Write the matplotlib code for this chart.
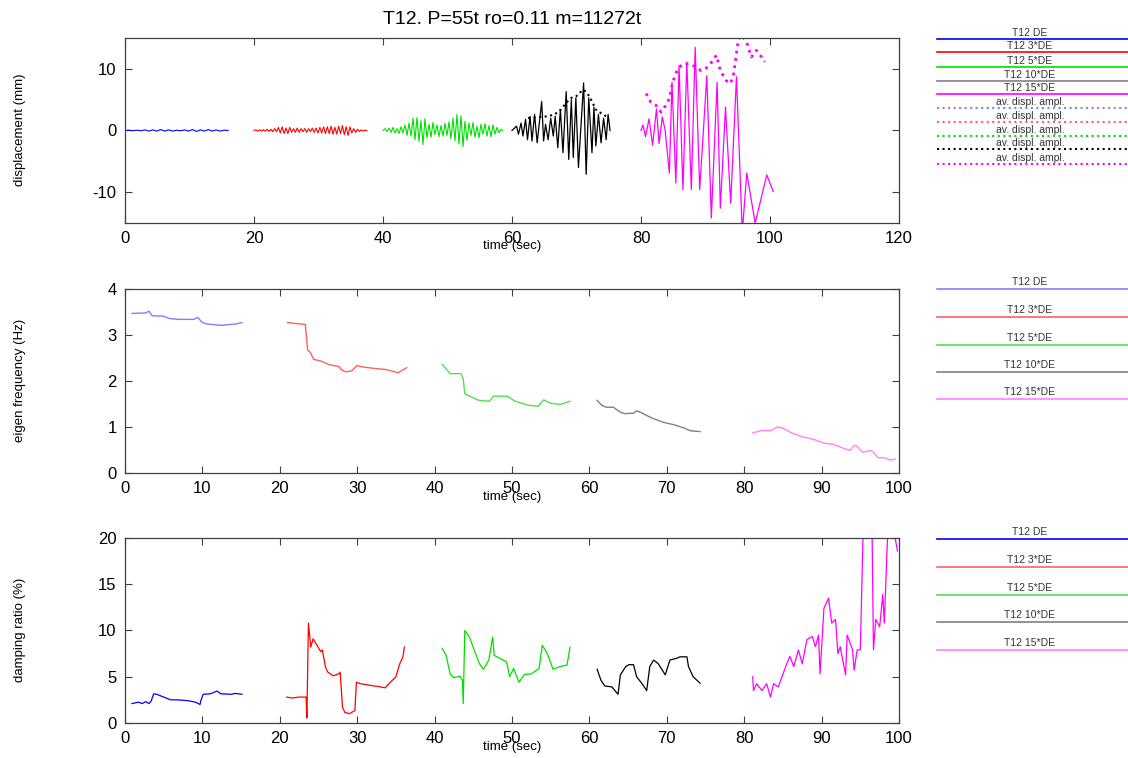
import numpy as np
import matplotlib
matplotlib.use('Agg')
import matplotlib.pyplot as plt

plt.rcParams['font.family'] = ['Liberation Sans', 'DejaVu Sans']
plt.rcParams['axes.unicode_minus'] = False

# Nombres de las series y colores
series = ['T12 DE', 'T12 3*DE', 'T12 5*DE', 'T12 10*DE', 'T12 15*DE']
colores = ['#0000ff', '#ff0000', '#00e000', '#000000', '#ff00ff']
colores_claros = ['#8080ff', '#ff6060', '#50e050', '#808080', '#ff80ff']

# ---- Desplazamiento (mm): extremos ----
d_azul = [0, 0.05, -0.05, 0.05, -0.05, 0.1, -0.1, 0.1, -0.1, 0.15, -0.1, 0.1, -0.1, 0.05,
          -0.05, 0.1, -0.1, 0.15, -0.15, 0.1, -0.1, 0.15, -0.1, 0.1, -0.1, 0.05, 0]
t_azul = (0.0, 16.0)

d_rojo = [0, 0.1, -0.1, 0.1, -0.1, 0.15, -0.1, 0.2, -0.15, 0.2, -0.2, 0.3, -0.2, 0.5, -0.4,
          0.6, -0.5, 0.4, -0.5, 0.5, -0.3, 0.3, -0.3, 0.4, -0.3, 0.3, -0.2, 0.3, -0.3, 0.3,
          -0.2, 0.4, -0.3, 0.4, -0.4, 0.5, -0.4, 0.6, -0.5, 0.6, -0.5, 0.7, -0.6, 0.5, -0.6,
          0.7, -0.5, 0.8, -0.7, 0.6, -0.8, 0.6, -0.4, 0.3, -0.3, 0.2, -0.15, 0.1, -0.1, 0.05, 0]
t_rojo = (20.0, 37.5)

d_verde = [0, 0.3, -0.2, 0.4, -0.3, 0.5, -0.4, 0.3, -0.5, 0.6, -0.4, 0.9, -0.8, 1.2, -0.9,
           2.0, -1.5, 2.1, -1.8, 1.6, -2.3, 1.9, -1.2, 1.0, -1.1, 1.3, -0.7, 0.9, -1.0, 0.8,
           -0.9, 1.2, -0.8, 1.4, -1.3, 2.0, -1.7, 2.6, -2.2, 2.4, -2.6, 1.5, -1.6, 1.2, -0.8,
           1.3, -1.1, 0.7, -1.2, 1.0, -0.6, 1.1, -0.9, 0.8, -1.0, 0.9, -0.6, 0.5, -0.4, 0.2, 0]
t_verde = (40.0, 58.6)

t_negro = [60.0, 60.7, 61.0, 61.4, 61.7, 62.1, 62.4, 62.8, 63.1, 63.5, 63.9, 64.6, 64.9,
           65.2, 65.6, 66.0, 66.4, 66.7, 67.1, 67.5, 67.9, 68.4, 68.8, 69.2, 69.5, 69.9,
           70.3, 71.1, 71.5, 71.9, 72.4, 72.7, 73.0, 73.4, 73.8, 74.2, 74.6, 74.9, 75.2]
d_negro = [0, 0.7, -0.6, 1.2, -0.9, 1.8, -1.5, 2.3, -1.7, 2.6, -2.0, 4.7, -1.7,
           1.0, -1.5, 2.0, -0.9, 2.3, -2.8, 3.4, -3.6, 6.3, -4.7, 5.0, -4.4, 5.3,
           -6.0, 7.7, -7.1, 5.3, -3.6, 3.8, -2.5, 2.6, -2.0, 2.0, -1.5, 2.6, 0]

t_magenta = [80.0, 80.3, 80.7, 81.25, 81.8, 82.4, 82.8, 83.3, 83.75, 84.4, 84.8, 85.4,
             85.9, 86.5, 87.1, 87.8, 88.4, 89.1, 90.2, 90.9, 91.8, 92.3, 93.1, 93.9,
             94.8, 95.7, 96.4, 97.7, 99.5, 100.5]
d_magenta = [0, 0.9, -1.0, 1.9, -2.4, 3.5, -2.1, 2.2, 0, -6.9, 7.8, -8.5,
             10.5, -9.6, 11.1, -9.6, 13.5, -9.6, 8.9, -14.2, 7.8, -12.6, 3.8, -11.8,
             8.7, -16.5, -6.9, -15.0, -7.2, -9.9]

# amplitud media del desplazamiento (punteada)
t_amp_negro = [62.5, 63.5, 64.5, 65.5, 66.6, 67.6, 68.4, 69.2, 69.9, 70.5, 71.0, 71.5,
               72.0, 72.5, 73.0, 73.8, 74.6]
a_amp_negro = [2.0, 2.1, 2.2, 2.3, 2.6, 3.4, 4.5, 5.3, 5.5, 6.1, 6.6, 6.3,
               5.5, 4.5, 3.4, 2.8, 2.3]
t_amp_magenta = [80.8, 81.5, 82.3, 83.1, 83.8, 84.4, 84.9, 85.7, 86.5, 87.5, 88.5, 89.3,
                 90.4, 91.7, 92.3, 93.2, 93.8, 94.3, 95.1, 95.6, 96.4, 97.1, 97.9, 98.7, 99.2]
a_amp_magenta = [6.0, 4.6, 4.1, 3.0, 4.0, 5.2, 7.8, 10.0, 10.8, 10.8, 10.3, 9.7,
                 10.3, 12.2, 9.7, 8.1, 7.6, 8.7, 14.8, 15.5, 14.3, 11.9, 13.0, 11.9, 11.1]

# ---- Frecuencia propia (Hz) ----
f_t = [
    [0.9, 2.7, 3.1, 3.5, 5.0, 5.7, 6.9, 8.9, 9.4, 10.0, 10.6, 12.4, 14.3, 15.1],
    [21.0, 22.1, 23.3, 23.6, 23.9, 24.4, 25.4, 26.3, 27.7, 27.9, 28.5, 29.3, 30.0, 30.5,
     31.9, 33.7, 35.3, 35.8, 36.4],
    [41.0, 42.0, 43.4, 43.7, 43.9, 44.8, 45.7, 47.1, 47.6, 49.4, 50.4, 52.2, 53.4, 54.1,
     54.9, 56.2, 57.5],
    [61.0, 61.6, 62.2, 63.1, 64.0, 64.6, 65.7, 66.1, 66.6, 67.4, 68.3, 69.6, 70.9, 72.2,
     73.0, 74.3],
    [81.1, 82.1, 83.4, 84.3, 84.9, 86.4, 87.7, 89.0, 90.3, 91.6, 93.1, 93.7, 94.2, 94.6,
     95.3, 96.4, 96.7, 97.3, 98.1, 98.9, 99.5],
]
f_val = [
    [3.47, 3.48, 3.52, 3.42, 3.41, 3.36, 3.34, 3.34, 3.38, 3.27, 3.24, 3.21, 3.24, 3.27],
    [3.27, 3.25, 3.23, 2.67, 2.63, 2.47, 2.43, 2.36, 2.31, 2.25, 2.20, 2.22, 2.34, 2.31,
     2.28, 2.25, 2.18, 2.23, 2.29],
    [2.36, 2.16, 2.16, 2.05, 1.72, 1.65, 1.58, 1.56, 1.67, 1.67, 1.56, 1.47, 1.45, 1.59,
     1.52, 1.49, 1.56],
    [1.58, 1.47, 1.43, 1.43, 1.32, 1.29, 1.30, 1.35, 1.32, 1.25, 1.18, 1.10, 1.05, 0.98,
     0.92, 0.90],
    [0.87, 0.92, 0.92, 1.00, 0.98, 0.85, 0.78, 0.73, 0.65, 0.62, 0.52, 0.49, 0.60, 0.58,
     0.45, 0.49, 0.45, 0.33, 0.33, 0.28, 0.30],
]

# ---- Amortiguamiento (%) ----
z_t = [
    [0.9, 1.75, 2.2, 2.7, 3.1, 3.4, 3.7, 4.1, 5.0, 5.9, 6.8, 8.2, 9.1, 9.7, 9.8, 10.1,
     11.0, 11.9, 12.4, 13.8, 14.2, 15.1],
    [20.9, 21.6, 22.5, 23.4, 23.5, 23.7, 24.0, 24.3, 24.8, 25.3, 25.5, 25.9, 26.2, 26.9,
     27.6, 27.8, 28.1, 28.4, 29.0, 29.7, 29.9, 30.4, 31.8, 32.7, 33.6, 34.1, 35.0, 35.5,
     35.9, 36.1],
    [41.0, 41.5, 42.0, 42.5, 43.3, 43.6, 43.7, 43.9, 44.5, 45.2, 45.8, 46.3, 47.0, 47.5,
     47.7, 48.4, 49.3, 49.7, 50.2, 50.9, 51.6, 52.5, 53.5, 53.9, 54.3, 54.7, 55.3, 56.2,
     57.1, 57.5],
    [61.0, 61.5, 62.0, 62.9, 63.7, 64.0, 64.7, 65.1, 65.7, 66.1, 66.8, 67.4, 67.8, 68.3,
     68.9, 69.8, 70.4, 71.3, 71.7, 72.6, 72.8, 73.4, 74.3],
    [81.1, 81.2, 81.6, 82.3, 82.9, 83.4, 83.8, 84.4, 85.1, 85.5, 85.9, 86.4, 87.0, 87.5,
     88.1, 88.8, 89.2, 89.6, 89.8, 90.3, 90.9, 91.3, 91.8, 92.1, 92.4, 93.1, 93.3, 94.0,
     94.2, 94.6, 95.0, 95.4, 96.5, 96.7, 97.0, 97.5, 97.9, 98.1, 98.6, 99.5, 99.8],
]
z_val = [
    [2.1, 2.25, 2.1, 2.3, 2.1, 2.4, 3.15, 3.1, 2.8, 2.5, 2.5, 2.4, 2.25, 2.0, 2.4, 3.1,
     3.15, 3.45, 3.15, 3.1, 3.2, 3.1],
    [2.8, 2.7, 2.8, 2.8, 0.55, 10.8, 8.2, 9.1, 8.4, 7.7, 7.9, 6.05, 5.5, 5.1,
     5.3, 5.5, 1.7, 1.15, 1.0, 1.35, 4.4, 4.25, 4.05, 3.95, 3.8, 4.25, 5.0, 6.4,
     7.1, 8.2],
    [8.05, 7.3, 5.3, 4.9, 5.05, 4.6, 2.1, 10.0, 9.3, 7.7, 6.4, 5.8, 6.8, 9.3,
     7.3, 7.0, 6.6, 5.0, 5.9, 4.4, 5.25, 5.3, 5.9, 8.4, 7.9, 7.2, 5.8, 6.1,
     6.25, 8.2],
    [5.8, 4.6, 4.0, 3.9, 3.1, 5.2, 6.1, 6.3, 6.3, 5.0, 4.25, 3.5, 6.1, 6.8,
     6.4, 5.2, 6.8, 7.0, 7.15, 7.15, 6.1, 5.0, 4.3],
    [5.0, 3.5, 4.25, 3.5, 4.25, 2.8, 4.25, 3.9, 5.5, 6.4, 7.2, 6.1, 7.9, 6.4,
     9.0, 9.35, 8.25, 9.5, 5.3, 12.4, 13.5, 10.8, 11.2, 7.5, 8.25, 5.2, 9.5, 7.9,
     5.7, 7.9, 7.9, 22.0, 22.0, 7.9, 11.2, 10.4, 13.9, 10.8, 22.0, 20.0, 18.6],
]

fig = plt.figure(figsize=(11.28, 7.58), dpi=100)

def estilo(ax, xlim, ylim, yticks):
    ax.set_xlim(xlim)
    ax.set_ylim(ylim)
    ax.set_yticks(yticks)
    ax.tick_params(direction='in', length=5, labelsize=12, top=True, right=True,
                   color='#404040', width=0.8, pad=6)
    for s in ax.spines.values():
        s.set_color('#404040')
        s.set_linewidth(0.9)

# Desplazamiento
ax1 = fig.add_axes([0.1108, 0.7058, 0.6862, 0.2441])
tramos = [(t_azul, d_azul), (t_rojo, d_rojo), (t_verde, d_verde)]
for i, (rango, d) in enumerate(tramos):
    t = np.linspace(rango[0], rango[1], len(d))
    ax1.plot(t, d, color=colores[i], lw=0.8)
ax1.plot(t_negro, d_negro, color='black', lw=0.9)
ax1.plot(t_magenta, d_magenta, color='#ff00ff', lw=0.9)
ax1.plot(t_amp_negro, a_amp_negro, ':', color='black', lw=1.5)
ax1.plot(t_amp_magenta, a_amp_magenta, ':', color='#ff00ff', lw=2)
estilo(ax1, (0, 120), (-15, 15), [-10, 0, 10])
ax1.set_xticks(np.arange(0, 121, 20))
ax1.set_title('T12. P=55t ro=0.11 m=11272t', fontsize=14, pad=10)

# Frecuencia propia
ax2 = fig.add_axes([0.1108, 0.376, 0.6862, 0.2427])
for i in range(5):
    ax2.plot(f_t[i], f_val[i], color=colores_claros[i], lw=1)
estilo(ax2, (0, 100), (0, 4), [0, 1, 2, 3, 4])
ax2.set_xticks(np.arange(0, 101, 10))

# Amortiguamiento
ax3 = fig.add_axes([0.1108, 0.0462, 0.6862, 0.2441])
for i in range(5):
    ax3.plot(z_t[i], z_val[i], color=colores[i], lw=0.9)
estilo(ax3, (0, 100), (0, 20), [0, 5, 10, 15, 20])
ax3.set_xticks(np.arange(0, 101, 10))

# Etiquetas de ejes
fig.text(20 / 1128, 1 - 130 / 758, 'displacement (mm)', rotation=90, ha='center', va='center', fontsize=9.5)
fig.text(20 / 1128, 1 - 380 / 758, 'eigen frequency (Hz)', rotation=90, ha='center', va='center', fontsize=9.5)
fig.text(20 / 1128, 1 - 630 / 758, 'damping ratio (%)', rotation=90, ha='center', va='center', fontsize=9.5)
for y in [246, 497, 747]:
    fig.text(512 / 1128, 1 - y / 758, 'time (sec)', ha='center', va='center', fontsize=9.5)

# Leyendas (al estilo MATLAB: texto sobre la linea)
leg = fig.add_axes([0, 0, 1, 1])
leg.set_xlim(0, 1128)
leg.set_ylim(758, 0)
leg.axis('off')
y_sup = [39, 52, 67, 81, 94]
y_sup_amp = [108, 122, 136, 149, 164]
for i in range(5):
    leg.plot([937, 1128], [y_sup[i]] * 2, color=colores_claros[i] if i == 3 else colores[i], lw=1.2)
    leg.text(1030, y_sup[i] - 1, series[i], ha='center', va='bottom', fontsize=7.5, color='#333333')
    leg.plot([937, 1128], [y_sup_amp[i]] * 2, ':', color=colores_claros[i] if i < 2 else colores[i], lw=1.5)
    leg.text(1030, y_sup_amp[i] - 1, 'av. displ. ampl.', ha='center', va='bottom', fontsize=7.5, color='#333333')
y_med = [289, 317, 345, 372, 399]
y_inf = [539, 567, 595, 622, 650]
for i in range(5):
    leg.plot([937, 1128], [y_med[i]] * 2, color=colores_claros[i], lw=1.2)
    leg.text(1030, y_med[i] - 2, series[i], ha='center', va='bottom', fontsize=7.5, color='#333333')
    leg.plot([937, 1128], [y_inf[i]] * 2, color=colores[i] if i == 0 else colores_claros[i], lw=1.2)
    leg.text(1030, y_inf[i] - 2, series[i], ha='center', va='bottom', fontsize=7.5, color='#333333')

fig.savefig('out.png', dpi=100)
